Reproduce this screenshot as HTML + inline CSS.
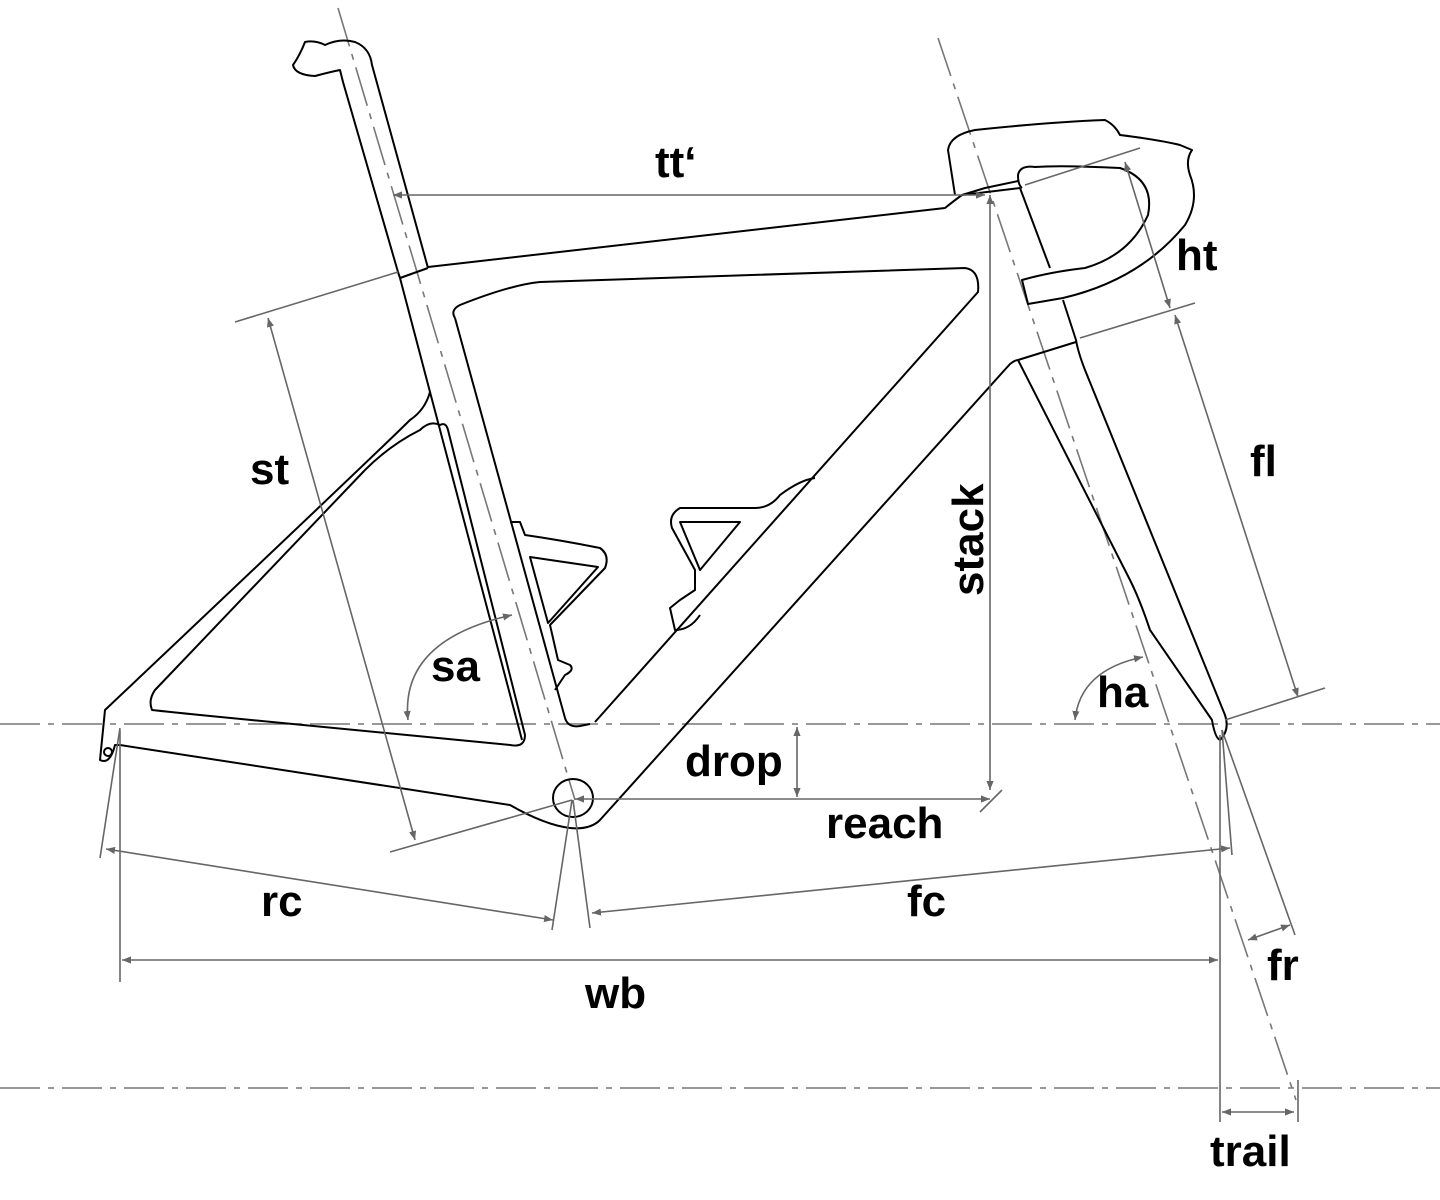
<!DOCTYPE html><html><head><style>html,body{margin:0;background:#fff}svg{display:block}text{font-family:"Liberation Sans",sans-serif;font-weight:bold;font-size:44px;fill:#000}</style></head><body>
<svg width="1440" height="1200" viewBox="0 0 1440 1200" xmlns="http://www.w3.org/2000/svg">
<defs><marker id="a" viewBox="0 0 10 10" refX="10" refY="5" markerWidth="9" markerHeight="9" orient="auto-start-reverse" markerUnits="userSpaceOnUse"><path d="M0,1 L10,5 L0,9z" fill="#666"/></marker></defs>
<g stroke="#777" stroke-width="1.6" fill="none" stroke-dasharray="40,8,6,8">
<line x1="0" y1="724" x2="1440" y2="724"/><line x1="0" y1="1088" x2="1440" y2="1088"/>
<line x1="338" y1="8" x2="575" y2="800"/><line x1="938" y1="38" x2="1296" y2="1100"/>
</g>
<g stroke="#000" stroke-width="2" fill="none" stroke-linejoin="round">
<path d="M398,272 L343,82 L340,70 Q330,72 315,76 Q295,75 293,65 Q300,55 305,42 Q315,40 325,45 Q340,38 355,42 Q370,48 372,65 L428,268"/>
<path d="M428,267 L945,208 Q955,200 962,195 L985,188 L1018,181"/>
<path d="M962,195 L1020,188"/>
<path d="M398,272 L400,278 L430,392 Q425,410 410,420 Q380,450 105,710 L100,760 Q110,765 115,745 L120,745 L510,805 Q545,825 570,828 Q590,830 600,820 L1010,364 Q1015,360 1018,360"/>
<path d="M400,278 L428,268"/>
<path d="M455,318 L565,718 Q568,728 580,726 L590,724"/>
<path d="M455,318 Q450,310 460,305 Q510,285 540,282 L965,268 Q980,270 978,292 L595,722"/>
<path d="M440,425 Q430,420 420,430 Q390,445 365,470 L155,690 Q148,700 152,710 Q170,712 200,715 L510,745 Q525,748 525,735 L448,430 Q446,422 440,425z"/>
<path d="M430,392 L522,740"/>
<ellipse cx="573" cy="798" rx="20" ry="19"/>
<!-- head tube & fork -->
<path d="M1020,188 L1050,268"/>
<path d="M1063,300 L1076,340 Q1078,352 1085,370 L1225,715 Q1230,730 1220,740 Q1215,738 1212,720 L1150,630 Q1140,600 1130,580 L1018,360"/>
<path d="M1018,360 L1076,342"/>
<!-- handlebar -->
<path d="M955,195 L948,150 Q950,135 975,130 Q1050,122 1105,120 Q1115,125 1120,135 Q1160,140 1180,145 L1192,150 Q1185,160 1190,175 Q1200,200 1185,225 Q1140,280 1063,298 L1028,304 L1022,280 Q1050,272 1085,268 Q1130,255 1148,215 Q1155,180 1120,168 Q1060,165 1035,167 Q1020,165 1018,175 Q1018,185 1022,188"/>
<!-- cages -->
<path d="M510,522 L520,522 L525,535 Q560,540 600,548 Q610,555 605,568 L550,625 L558,660 L570,665 Q575,670 565,675 L555,690"/>
<path d="M530,557 L598,567 L548,623 z"/>
<path d="M815,478 Q800,480 780,495 Q770,508 755,508 L680,508 Q668,515 672,528 L695,570 L695,590 L680,600 L670,608 L675,630 Q690,630 700,615"/>
<path d="M680,522 L740,522 L700,570 z"/>
<circle cx="108" cy="752" r="4"/>
</g>
<g stroke="#666" stroke-width="1.6" fill="none">
<line x1="393" y1="195" x2="985" y2="195" marker-start="url(#a)" marker-end="url(#a)"/>
<line x1="1125" y1="162" x2="1170" y2="308" marker-start="url(#a)" marker-end="url(#a)"/>
<line x1="1025" y1="185" x2="1140" y2="148"/><line x1="1080" y1="338" x2="1195" y2="303"/>
<line x1="1175" y1="315" x2="1298" y2="697" marker-start="url(#a)" marker-end="url(#a)"/>
<line x1="1225" y1="720" x2="1325" y2="688"/>
<line x1="235" y1="322" x2="398" y2="272"/><line x1="390" y1="852" x2="572" y2="800"/>
<line x1="268" y1="318" x2="415" y2="840" marker-start="url(#a)" marker-end="url(#a)"/>
<line x1="990" y1="195" x2="990" y2="790" marker-start="url(#a)" marker-end="url(#a)"/>
<line x1="575" y1="799" x2="990" y2="799" marker-start="url(#a)" marker-end="url(#a)"/>
<line x1="980" y1="812" x2="1002" y2="790"/>
<line x1="797" y1="727" x2="797" y2="797" marker-start="url(#a)" marker-end="url(#a)"/>
<line x1="100" y1="858" x2="120" y2="728"/><line x1="552" y1="930" x2="572" y2="800"/><line x1="590" y1="928" x2="573" y2="800"/>
<line x1="106" y1="849" x2="553" y2="920" marker-start="url(#a)" marker-end="url(#a)"/>
<line x1="592" y1="913" x2="1230" y2="848" marker-start="url(#a)" marker-end="url(#a)"/>
<line x1="1222" y1="730" x2="1232" y2="855"/>
<line x1="120" y1="730" x2="120" y2="982"/><line x1="1220" y1="735" x2="1220" y2="1122"/>
<line x1="122" y1="960" x2="1218" y2="960" marker-start="url(#a)" marker-end="url(#a)"/>
<line x1="1222" y1="730" x2="1295" y2="935"/>
<line x1="1248" y1="940" x2="1290" y2="925" marker-start="url(#a)" marker-end="url(#a)"/>
<line x1="1298" y1="1080" x2="1298" y2="1122"/>
<line x1="1222" y1="1112" x2="1294" y2="1112" marker-start="url(#a)" marker-end="url(#a)"/>
<path d="M408,720 Q400,640 512,615" marker-start="url(#a)" marker-end="url(#a)"/>
<path d="M1075,720 Q1080,670 1143,657" marker-start="url(#a)" marker-end="url(#a)"/>
</g>
<text x="655" y="177">tt‘</text><text x="1176" y="270">ht</text><text x="250" y="484">st</text>
<text x="1250" y="476">fl</text><text x="431" y="681">sa</text><text x="1097" y="707">ha</text>
<text x="685" y="776">drop</text><text x="826" y="838">reach</text><text x="261" y="916">rc</text>
<text x="907" y="916">fc</text><text x="585" y="1008">wb</text><text x="1267" y="980">fr</text>
<text x="1210" y="1166">trail</text>
<text transform="translate(983,596) rotate(-90)">stack</text>
</svg></body></html>
